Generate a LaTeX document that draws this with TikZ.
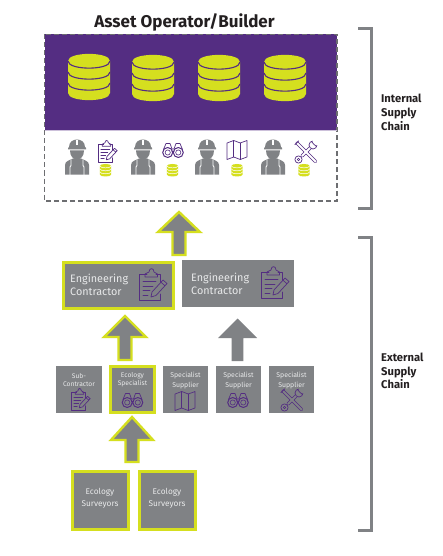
\documentclass[tikz,border=0pt]{standalone}
\usepackage{fontspec}
\setmainfont{Fira Sans}
\definecolor{opurple}{HTML}{542D82}
\definecolor{oyellow}{HTML}{D5DF1F}
\definecolor{ogrey}{HTML}{808285}
\definecolor{otext}{HTML}{E8E9EA}
\definecolor{oink}{HTML}{231F20}
\tikzset{
  x=1pt,y=-1pt,
  plainbox/.style={draw=none,fill=ogrey,inner sep=0pt,outer sep=0pt,rectangle},
  hilitebox/.style={draw=oyellow,line width=2.6pt,fill=ogrey,inner sep=0pt,outer sep=0pt,rectangle},
  boxtext/.style={text=otext,inner sep=0pt,align=center,font=\fontsize{6.9}{10}\selectfont},
  smalltext/.style={text=otext,inner sep=0pt,align=center,font=\fontsize{6.7}{8}\selectfont},
  bigtext/.style={text=otext,inner sep=0pt,align=left,anchor=west,font=\fontsize{10.8}{13}\selectfont},
  midtext/.style={text=otext,inner sep=0pt,align=center,font=\fontsize{8.3}{12.3}\selectfont},
  sidetext/.style={text=oink,inner sep=0pt,align=left,anchor=west,font=\fontsize{11.2}{13.8}\selectfont\bfseries},
  hiarrow/.style={fill=ogrey,draw=oyellow,line width=2.4pt,miter limit=10},
  plainarrow/.style={fill=ogrey,draw=none},
  bracket/.style={draw=ogrey,line width=3pt,line join=miter},
  icon/.style={draw=opurple,line width=0.7pt,line join=round,line cap=round},
  pics/db/.style={code={
    \fill[oyellow] (-21,-17) .. controls (-21,-26.5) and (21,-26.5) .. (21,-17)
      -- (21,15) .. controls (21,24.5) and (-21,24.5) .. (-21,15) -- cycle;
    \foreach \yy in {-17,-6,5}{
      \draw[#1] (-21,\yy) .. controls (-21,\yy+9.5) and (21,\yy+9.5) .. (21,\yy);
    }
  }},
  bigband/.style={opurple,line width=1.1pt},
  smallband/.style={white,line width=0.5pt},
  pics/worker/.style={code={
    \fill[ogrey] (-9,-9) -- (-8,-10) .. controls (-8,-20) and (8,-20) .. (8,-10) -- (9,-9) -- (9,-7.5) -- (-9,-7.5) -- cycle;
    \fill[white] (-1,-17) rectangle (1,-12);
    \fill[ogrey] (-7,-6.5) -- (7,-6.5) .. controls (7,0) and (3,2.5) .. (0,2.5) .. controls (-3,2.5) and (-7,0) .. (-7,-6.5) -- cycle;
    \fill[ogrey] (-12,17.5) -- (-12,8) .. controls (-12,4) and (-7,3) .. (-4,1.5) -- (4,1.5) .. controls (7,3) and (12,4) .. (12,8) -- (12,17.5) -- cycle;
    \draw[white,line width=0.9pt] (-6,2.5) -- (-6,8.5) -- (-7,10) -- (-7,18) (6,2.5) -- (6,8.5) -- (7,10) -- (7,18);
  }},
  pics/clipicon/.style={code={
    \draw[icon] (-5,-9.5) -- (-13,-9.5) -- (-13,16) -- (8,16) -- (8,10) (8,-2) -- (8,-9.5) -- (4,-9.5);
    \draw[icon] (-7,-7) -- (-7,-10) -- (-3,-12) .. controls (-3,-16.5) and (2,-16.5) .. (2,-12) -- (5.5,-10) -- (5.5,-7) -- cycle;
    \draw[icon] (-9,-2.5) -- (4,-2.5) (-9,2) -- (1,2) (-9,6.5) -- (-2,6.5) (-9,11) -- (-4,11);
    \draw[icon] (0,8) -- (11,-4) -- (15,-0.5) -- (4,11.5) -- (-1,13) -- cycle (9,-1.7) -- (13,1.7);
  }},
  pics/binoc/.style={code={
    \draw[icon,line width=1pt] (-5.3,2.5) circle (5) (5.3,2.5) circle (5);
    \draw[icon,line width=0.6pt] (-5.3,2.5) circle (2.6) (5.3,2.5) circle (2.6);
    \draw[icon,line width=0.7pt] (-9.5,-0.5) -- (-7,-6.5) -- (-3,-6.5) -- (-1,-1) -- (1,-1) -- (3,-6.5) -- (7,-6.5) -- (9.5,-0.5);
    \draw[icon,line width=0.7pt] (-1,1.5) -- (1,1.5);
  }},
  pics/mapicon/.style={code={
    \draw[icon] (-10,-7) -- (-3.3,-9.5) -- (3.3,-7) -- (10,-9.5) -- (10,7) -- (3.3,9.5) -- (-3.3,7) -- (-10,9.5) -- cycle;
    \draw[icon] (-3.3,-9.5) -- (-3.3,7) (3.3,-7) -- (3.3,9.5);
  }},
  pics/tools/.style={code={
    \draw[opurple,line width=3.2pt,line cap=round] (-4,4) -- (5,-5);
    \draw[opurple,line width=3.2pt,line cap=round] (-9,-9) -- (9.5,9.5);
    \draw[#1,line width=1.8pt,line cap=round] (-9,-9) -- (9.5,9.5);
    \draw[#1,line width=1.8pt,line cap=round] (-4,4) -- (5,-5);
    \draw[icon,fill=#1] (-7.5,7.5) circle (3.6);
    \draw[opurple,fill=#1,line width=0.6pt] (-7.5,7.5) circle (1.3);
    \draw[icon,fill=#1] (7,-7) circle (4);
    \fill[#1] (7.5,-7.5) -- (12.5,-6.5) -- (12.5,-12) -- (6.5,-12) -- cycle;
    \draw[icon] (10.7,-5.3) -- (7.8,-7.8) -- (5.3,-10.7);
    \draw[icon,line width=0.8pt] (-11,-7.5) -- (-7.5,-11);
  }}
}
\newcommand{\blockarrow}[7]{% style, tip x, tip y, base y, half head, half shaft, bottom y
  \draw[#1] (#2,#3) -- (#2+#5,#4) -- (#2+#6,#4) -- (#2+#6,#7) -- (#2-#6,#7) -- (#2-#6,#4) -- (#2-#5,#4) -- cycle;}
\begin{document}
\begin{tikzpicture}
\useasboundingbox (0,0) rectangle (442,556);
\fill[white] (0,0) rectangle (442,556);
% title
\node[inner sep=0pt,text=oink,font=\fontsize{17}{20}\selectfont\bfseries] (title) at (184.5,22) {Asset Operator/Builder};
% internal panel
\node[plainbox,fill=opurple,minimum width=292.5pt,minimum height=95.5pt] (panel) at (190.75,82.25) {};
\draw[draw=ogrey!85!black,line width=1.1pt,dash pattern=on 5pt off 3pt] (44.5,34.5) rectangle (337,201);
\draw[white!70!opurple,line width=0.6pt] (44.5,130.2) -- (337,130.2);
\pic at (89,78) {db=bigband};
\pic at (153,79) {db=bigband};
\pic at (219,79) {db=bigband};
\pic at (285,79) {db=bigband};
\pic at (77,157) {worker};
\pic at (143,157) {worker};
\pic at (207,157) {worker};
\pic at (273,157) {worker};
\pic[scale=0.68] at (107,151) {clipicon};
\pic at (173,150) {binoc};
\pic at (237,150) {mapicon};
\pic at (306,152) {tools=white};
\pic[scale=0.27] at (105.5,170.5) {db=smallband};
\pic[scale=0.27] at (172.5,170.5) {db=smallband};
\pic[scale=0.27] at (237,170.5) {db=smallband};
\pic[scale=0.27] at (304,170.5) {db=smallband};
% arrows
\blockarrow{hiarrow}{179}{212}{232}{21}{6.5}{255}
\blockarrow{hiarrow}{125}{316}{337}{21}{6.5}{360}
\blockarrow{plainarrow}{237.5}{318.5}{338}{19.5}{5.8}{361}
\blockarrow{hiarrow}{132}{417}{440}{21}{6.5}{462}
% engineering boxes
\node[hilitebox,minimum width=110.5pt,minimum height=46.5pt] (eng1) at (118.5,285.5) {};
\node[plainbox,minimum width=112pt,minimum height=47pt] (eng2) at (238,283.5) {};
\node[bigtext] (eng1t) at (70,284.5) {Engineering\\Contractor};
\node[bigtext] (eng2t) at (191,283.5) {Engineering\\Contractor};
\pic at (152,284) {clipicon};
\pic at (274,282) {clipicon};
% small boxes
\node[plainbox,minimum width=46pt,minimum height=47pt] (s1) at (79,389.5) {};
\node[hilitebox,minimum width=44.5pt,minimum height=46.5pt] (s2) at (132.5,389.5) {};
\node[plainbox,minimum width=45pt,minimum height=47pt] (s3) at (185.5,389.5) {};
\node[plainbox,minimum width=45pt,minimum height=47pt] (s4) at (238.5,389.5) {};
\node[plainbox,minimum width=45pt,minimum height=47pt] (s5) at (291.5,389.5) {};
\node[smalltext] (s1t) at (79,380) {Sub-\\Contractor};
\node[smalltext] (s2t) at (132.5,380) {Ecology\\Specialist};
\node[boxtext] (s3t) at (185.5,381) {Specialist\\Supplier};
\node[boxtext] (s4t) at (238.5,381) {Specialist\\Supplier};
\node[boxtext] (s5t) at (291.5,381) {Specialist\\Supplier};
\pic[scale=0.68] at (80,399) {clipicon};
\pic at (132.5,400) {binoc};
\pic at (185,401) {mapicon};
\pic at (238,400) {binoc};
\pic at (292,400) {tools=ogrey};
% surveyors
\node[hilitebox,minimum width=56.5pt,minimum height=57.5pt] (v1) at (100.5,500.5) {};
\node[hilitebox,minimum width=56.5pt,minimum height=57.5pt] (v2) at (167.5,500.5) {};
\node[midtext] (v1t) at (100,498) {Ecology\\Surveyors};
\node[midtext] (v2t) at (167,498) {Ecology\\Surveyors};
% brackets
\draw[bracket] (358,29) -- (371.5,29) -- (371.5,208) -- (358,208);
\draw[bracket] (358,237) -- (371.5,237) -- (371.5,530) -- (358,530);
\node[sidetext] (int) at (381,112.5) {Internal\\Supply\\Chain};
\node[sidetext] (ext) at (381,371) {External\\Supply\\Chain};
\end{tikzpicture}
\end{document}
